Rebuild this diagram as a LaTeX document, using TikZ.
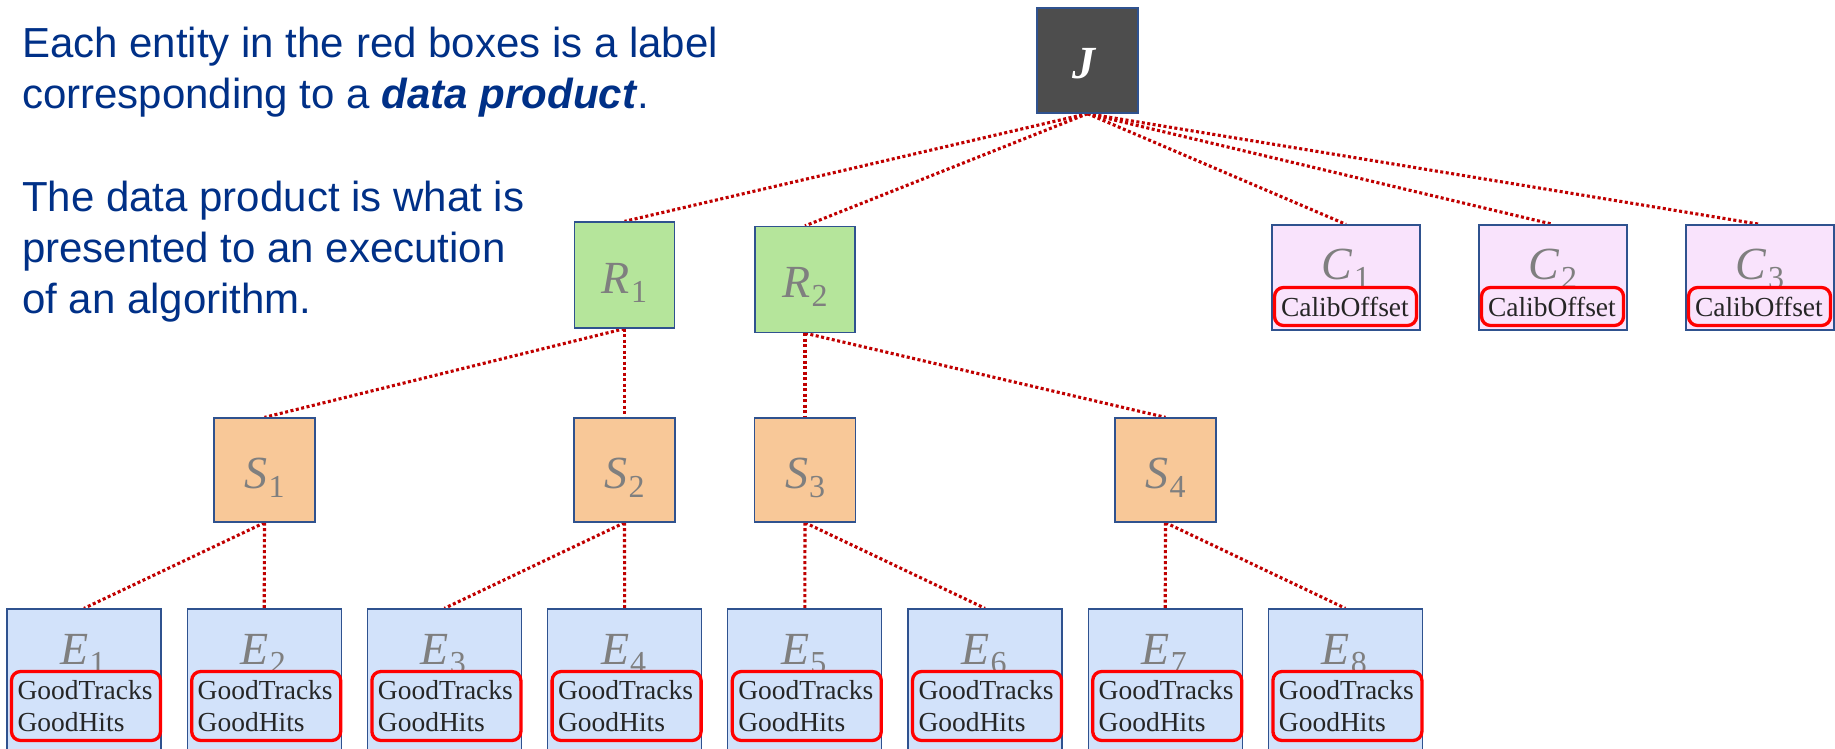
\documentclass[tikz,border=0pt]{standalone}
\usepackage{fontspec}
\setmainfont{Liberation Sans}
\newfontfamily\tagfont{Liberation Serif}
\usetikzlibrary{backgrounds}

\definecolor{jgray}{HTML}{4D4D4D}
\definecolor{edgeblue}{HTML}{2F528F}
\definecolor{rgreen}{HTML}{B5E59B}
\definecolor{sorange}{HTML}{F8C898}
\definecolor{eblue}{HTML}{D2E2FA}
\definecolor{cpink}{HTML}{F9E3FC}
\definecolor{symgray}{HTML}{7F7F7F}
\definecolor{tagred}{HTML}{FF0000}
\definecolor{tagtext}{HTML}{262626}
\definecolor{linered}{HTML}{C00000}
\definecolor{notetext}{HTML}{003087}

% italic letter with an upright, lowered index
\newcommand\idxsym[2]{\textit{#1}\kern1pt\raisebox{-0.2em}{\fontsize{32}{32}\selectfont #2}}

\tikzset{
  boxedge/.style={draw=edgeblue, line width=1.3pt, inner sep=0pt},
  jbox/.style={boxedge, fill=jgray, minimum width=101pt, minimum height=105pt},
  rbox/.style={boxedge, fill=rgreen, minimum width=100pt, minimum height=106pt},
  sbox/.style={boxedge, fill=sorange, minimum width=101pt, minimum height=104pt},
  cbox/.style={boxedge, fill=cpink, minimum width=148pt, minimum height=105pt},
  ebox/.style={boxedge, fill=eblue, minimum width=154pt, minimum height=200pt},
  sym/.style={text=symgray, font=\tagfont\fontsize{46}{46}\selectfont, inner sep=0pt, anchor=base},
  tagbox/.style={draw=tagred, line width=3.3pt, rounded corners=9pt, inner xsep=6pt,
    inner ysep=0pt, align=left, text=tagtext, font=\tagfont\fontsize{27.5}{32}\selectfont},
  etag/.style={tagbox, fill=eblue, text width=137pt, minimum height=69pt},
  ctag/.style={tagbox, fill=cpink, text width=129pt, minimum height=38pt, inner xsep=6.5pt},
  dotline/.style={draw=linered, line width=3.1pt, dash pattern=on 3pt off 2.5pt},
  note/.style={anchor=base west, inner sep=0pt, text=notetext, font=\fontsize{42}{51}\selectfont},
}

\begin{document}
\begin{tikzpicture}[x=1pt, y=-1pt]
\clip (0,0) rectangle (1835,748);
\useasboundingbox (0,0) rectangle (1835,748);

% explanatory text
\node[note] (n1) at (22,57)  {Each entity in the red boxes is a label};
\node[note] (n2) at (22,108) {corresponding to a \textbf{\textit{data product}}.};
\node[note] (n3) at (22,211) {The data product is what is};
\node[note] (n4) at (22,262) {presented to an execution};
\node[note] (n5) at (22,313) {of an algorithm.};

% job
\node[jbox] (J) at (1087.5,60.5) {};
\node[text=white, inner sep=0pt, font=\tagfont\bfseries\itshape\fontsize{46}{46}\selectfont] (Jl) at (1084,64) {J};

% runs
\node[rbox] (R1) at (624.5,275) {};
\node[rbox] (R2) at (805,279.5) {};
\node[sym] (R1l) at (624.5,293) {\idxsym{R}{1}};
\node[sym] (R2l) at (805,297.5) {\idxsym{R}{2}};

% calibrations
\foreach \i/\x in {1/1346,2/1553,3/1760} {
  \node[cbox] (C\i) at (\x,277.5) {};
  \node[sym] (C\i l) at (\x,279) {\idxsym{C}{\i}};
  \node[ctag] (C\i t) at (\x-0.5,306.5) {CalibOffset};
}

% subruns
\node[sbox] (S1) at (264.5,470) {};
\node[sbox] (S2) at (624.5,470) {};
\node[sbox] (S3) at (805,470) {};
\node[sbox] (S4) at (1165.5,470) {};
\foreach \i in {1,...,4} {
  \node[sym] (S\i l) at ([yshift=-18pt]S\i.center) {\idxsym{S}{\i}};
}

% events
\foreach \i in {1,...,8} {
  \pgfmathsetmacro{\cx}{84+180.2*(\i-1)}
  \node[ebox] (E\i) at (\cx,709) {};
  \node[sym] (E\i l) at (\cx-1,664) {\idxsym{E}{\i}};
  \node[etag] (E\i t) at (\cx+2,706) {GoodTracks\\GoodHits};
}

% hierarchy connectors
\begin{scope}[on background layer]
  \foreach \t in {R1,R2,C1,C2,C3} \draw[dotline] (J.south) -- (\t.north);
  \draw[dotline] (R1.south) -- (S1.north);
  \draw[dotline] (R1.south) -- (S2.north);
  \draw[dotline] (R2.south) -- (S3.north);
  \draw[dotline] (R2.south) -- (S4.north);
  \draw[dotline] (S1.south) -- (E1.north);
  \draw[dotline] (S1.south) -- (E2.north);
  \draw[dotline] (S2.south) -- (E3.north);
  \draw[dotline] (S2.south) -- (E4.north);
  \draw[dotline] (S3.south) -- (E5.north);
  \draw[dotline] (S3.south) -- (E6.north);
  \draw[dotline] (S4.south) -- (E7.north);
  \draw[dotline] (S4.south) -- (E8.north);
\end{scope}
\end{tikzpicture}
\end{document}
